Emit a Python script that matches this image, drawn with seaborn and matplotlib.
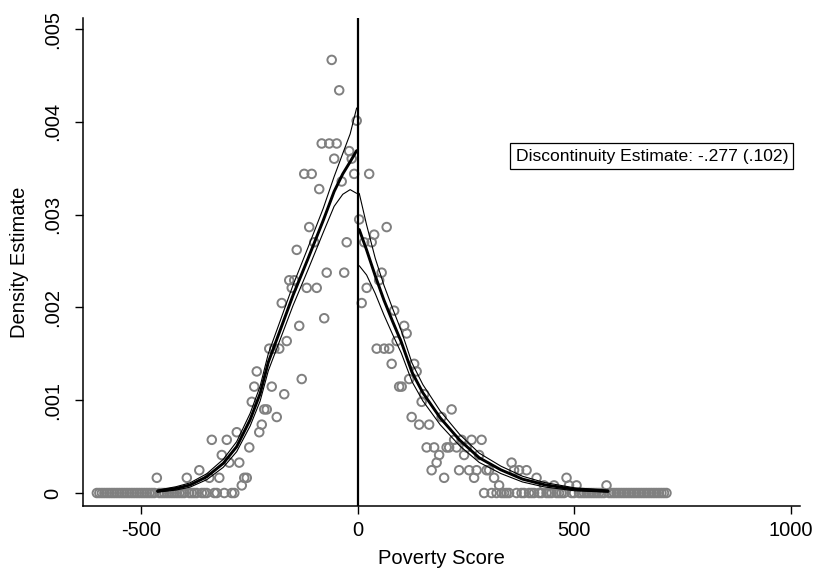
import numpy as np
import pandas as pd
import matplotlib
matplotlib.use("Agg")
import matplotlib.pyplot as plt
import seaborn as sns

# ---------------- data ----------------
BIN_WIDTH = 5.77            # histogram bin width (Poverty Score units)
DENSITY_PER_COUNT = 0.0000819  # density of one observation in a bin

# bin counts left of the cutoff, from the far-left bin up to the cutoff
left_counts = [0, 0, 0, 0, 0, 0, 0, 0, 0, 0,
               0, 0, 0, 0, 0, 0, 0, 0, 0, 0,
               0, 0, 0, 0, 2,
               0, 0, 0, 0, 0, 0, 0, 0, 0, 0, 0,
               2, 0, 0, 0, 0, 3, 0, 0, 0,
               2, 7, 0, 0, 2, 5, 0, 7, 4, 0, 0,
               8, 4, 1, 2, 2, 6, 12, 14, 16, 8,
               9, 11, 11, 19, 14, 19, 10, 19, 25, 13,
               20, 28, 27, 28, 32, 22, 15, 42, 27, 35,
               42, 33, 27, 40, 46, 23, 29, 46, 57, 44,
               46, 53, 41, 29, 33, 45, 44, 42, 49]
# bin counts right of the cutoff, from the cutoff outwards
right_counts = [36, 25, 33, 27, 42, 33, 34, 19, 28, 29,
                19, 35, 19, 17, 24, 20, 14, 14, 22, 21,
                15, 10, 17, 16, 9, 12, 13, 6, 9, 3,
                6, 4, 5, 10, 2, 6, 6, 11, 7, 6,
                3, 7, 5, 6, 3, 7, 2, 3, 5, 7,
                0, 3, 3, 0, 2, 0, 1, 0, 0, 0,
                0, 4, 3, 0, 3, 0, 0, 3, 0, 0,
                0, 2, 0, 0, 1, 0, 0, 0, 1, 0,
                0, 0, 0, 2, 1, 0, 0, 1, 0, 0,
                0, 0, 0, 0, 0, 0, 0, 0, 0, 1,
                0, 0, 0, 0, 0, 0, 0, 0, 0, 0,
                0, 0, 0, 0, 0, 0, 0, 0, 0, 0,
                0, 0, 0, 0]

# local linear density fit, left of cutoff
fit_left_x = [-463, -420, -388, -349, -311, -280, -249, -226, -207, -180,
              -150, -115, -80, -55, -35, -18, -3]
fit_left = [0.00002, 0.00005, 0.000086, 0.000176, 0.00032, 0.0005, 0.00079,
            0.00107, 0.00141, 0.00175, 0.00213, 0.00253, 0.00294, 0.00325,
            0.00344, 0.00357, 0.00369]
fit_left_hi = [0.000031, 0.000068, 0.000109, 0.000208, 0.000363, 0.000554, 0.000858,
               0.00115, 0.001502, 0.00185, 0.00224, 0.00265, 0.00307, 0.00341,
               0.00366, 0.00387, 0.00415]
fit_left_lo = [0.000009, 0.000032, 0.000063, 0.000144, 0.000277, 0.000446, 0.000722,
               0.00099, 0.001318, 0.00165, 0.00202, 0.00241, 0.00281, 0.00309,
               0.00322, 0.00327, 0.00323]

# local linear density fit, right of cutoff
fit_right_x = [3, 20, 40, 60, 80, 100, 125, 150, 190, 235, 280, 330, 380, 430, 500, 578]
fit_right = [0.00284, 0.00262, 0.00234, 0.00208, 0.00185, 0.00163, 0.0013,
             0.00108, 0.00081, 0.00057, 0.00038, 0.00025, 0.00015, 0.00009,
             0.00004, 0.00002]
fit_right_hi = [0.00323, 0.00289, 0.00253, 0.00224, 0.00199, 0.00175, 0.0014,
                0.001168, 0.000884, 0.000631, 0.00043, 0.00029, 0.000181,
                0.000114, 0.000056, 0.000031]
fit_right_lo = [0.00245, 0.00235, 0.00215, 0.00192, 0.00171, 0.00151, 0.0012,
                0.000992, 0.000736, 0.000509, 0.00033, 0.00021, 0.000119,
                0.000066, 0.000024, 0.000009]

x_ticks = [-500, 0, 500, 1000]
x_tick_labels = ["-500", "0", "500", "1000"]
y_ticks = [0, 0.001, 0.002, 0.003, 0.004, 0.005]
y_tick_labels = ["0", ".001", ".002", ".003", ".004", ".005"]
annotation = "Discontinuity Estimate: -.277 (.102)"

# ---------------- build tables ----------------
nl = len(left_counts)
left_x = -(np.arange(nl)[::-1] + 0.5) * BIN_WIDTH
right_x = (np.arange(len(right_counts)) + 0.5) * BIN_WIDTH
bins = pd.DataFrame({
    "x": np.concatenate([left_x, right_x]),
    "y": np.array(left_counts + right_counts) * DENSITY_PER_COUNT,
})

# ---------------- plot ----------------
sns.set_style("ticks", {"text.color": "black", "axes.labelcolor": "black",
                        "xtick.color": "black", "ytick.color": "black",
                        "axes.edgecolor": "black"})
plt.rcParams["font.family"] = ["Liberation Sans", "DejaVu Sans"]

fig = plt.figure(figsize=(8.17, 5.68), dpi=100)
ax = fig.add_axes([83 / 817, 62 / 568, (800 - 83) / 817, (506 - 18) / 568])

grey = "#808080"
sns.scatterplot(data=bins, x="x", y="y", ax=ax, marker="o", s=38,
                facecolor="none", edgecolor=grey, linewidth=1.4, zorder=2)

for xs, ys, lw in [(fit_left_x, fit_left, 2.1), (fit_left_x, fit_left_hi, 0.8),
                   (fit_left_x, fit_left_lo, 0.8),
                   (fit_right_x, fit_right, 2.1), (fit_right_x, fit_right_hi, 0.8),
                   (fit_right_x, fit_right_lo, 0.8)]:
    sns.lineplot(x=xs, y=ys, ax=ax, color="black", linewidth=lw,
                 estimator=None, sort=False, zorder=3)

ax.axvline(0, color="black", linewidth=1.6, zorder=4)

ax.set_xlim(-635, 1021)
ax.set_ylim(-0.00014, 0.00512)
ax.set_xticks(x_ticks)
ax.set_xticklabels(x_tick_labels)
ax.set_yticks(y_ticks)
ax.set_yticklabels(y_tick_labels, rotation=90, va="center")
ax.tick_params(axis="both", labelsize=14.5, length=6, width=1, color="black",
               labelcolor="black", direction="out")
ax.tick_params(axis="x", pad=5)
ax.tick_params(axis="y", pad=9)
ax.set_xlabel("Poverty Score", fontsize=14.5, labelpad=6, color="black")
ax.set_ylabel("Density Estimate", fontsize=14.5, labelpad=10, color="black")
sns.despine(ax=ax)
for sp in ["left", "bottom"]:
    ax.spines[sp].set_linewidth(1.1)
    ax.spines[sp].set_color("black")

ax.text(679, 0.00363, annotation, fontsize=12.6, ha="center", va="center",
        color="black",
        bbox=dict(boxstyle="square,pad=0.3", facecolor="white",
                  edgecolor="black", linewidth=0.9), zorder=5)

fig.savefig("out.png", dpi=100)
